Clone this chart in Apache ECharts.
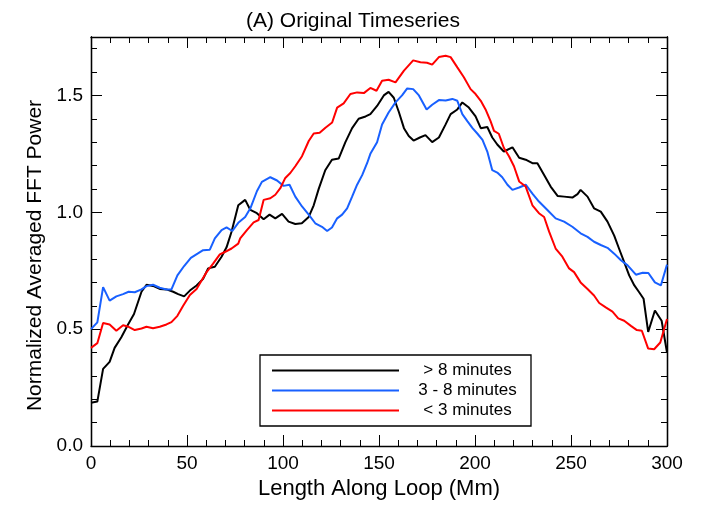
<!DOCTYPE html>
<html>
<head>
<meta charset="utf-8">
<script src="https://cdn.jsdelivr.net/npm/echarts@6/dist/echarts.min.js"></script>
<style>html,body{margin:0;padding:0;background:#fff;}#chart{width:706px;height:505px;}</style>
</head>
<body>
<div id="chart"></div>
<script>
// ---- Data ----
const seriesNames = ['> 8 minutes', '3 - 8 minutes', '< 3 minutes'];
const xTicks = [0, 50, 100, 150, 200, 250, 300];
const yTicks = [0.0, 0.5, 1.0, 1.5];

const longPeriod = [ // > 8 minutes : [Mm, power]
 [0,0.185],[3.3,0.19],[6.3,0.33],[9.7,0.36],[12.3,0.42],[15.8,0.465],[19.3,0.52],[22.4,0.565],
 [26.3,0.66],[28.9,0.69],[32.3,0.685],[35.8,0.672],[39.3,0.67],[42.8,0.66],[45.4,0.65],[48.5,0.64],
 [51.5,0.665],[55,0.687],[58.4,0.715],[61,0.76],[64.5,0.767],[68,0.81],[70.6,0.85],[73.2,0.917],
 [76.7,1.03],[80.3,1.053],[83,1.01],[86.4,0.996],[89.9,0.97],[93,0.99],[96,0.974],[99.5,0.993],
 [102.9,0.96],[106.4,0.95],[109.8,0.953],[113.4,0.98],[116,1.03],[118.6,1.10],[122,1.18],[125.5,1.225],
 [129,1.23],[132.5,1.30],[136,1.36],[139.4,1.40],[143,1.41],[145.5,1.42],[149,1.455],[152.5,1.50],
 [155,1.515],[157.7,1.49],[160.3,1.43],[163,1.36],[165.5,1.326],[168,1.307],[171.3,1.32],[174.2,1.33],
 [177.7,1.30],[181.2,1.32],[184.7,1.376],[187.3,1.42],[190.8,1.44],[193.4,1.47],[196.8,1.448],[200.3,1.41],
 [203,1.36],[206.4,1.365],[209,1.32],[211.6,1.29],[215,1.26],[219.5,1.278],[223,1.233],[226.4,1.225],
 [229.9,1.21],[232.5,1.21],[236,1.16],[239.4,1.11],[243,1.07],[246.4,1.067],[250.7,1.063],[253.4,1.078],
 [255,1.096],[258.6,1.067],[262,1.017],[265.5,1.003],[269,0.96],[272.5,0.90],[275,0.845],[277.7,0.787],
 [280.3,0.73],[283,0.687],[285.5,0.658],[287.8,0.63],[290.2,0.488],[293.7,0.58],[297.2,0.536],[300,0.40]
];

const midPeriod = [ // 3 - 8 minutes
 [0,0.50],[3.3,0.529],[6.3,0.68],[9.7,0.622],[13.2,0.64],[16.7,0.65],[19.6,0.66],[22.8,0.658],
 [26.3,0.67],[28.9,0.684],[32.3,0.69],[35.8,0.677],[39.3,0.67],[41.9,0.67],[45,0.73],[48.5,0.77],
 [52,0.805],[55.5,0.823],[58.4,0.838],[61.9,0.84],[64.5,0.888],[68,0.924],[70.6,0.935],[73.6,0.92],
 [76.7,0.955],[80.3,0.98],[83,1.017],[86.4,1.09],[89,1.13],[93.4,1.15],[96.9,1.136],[100.3,1.113],
 [103.4,1.118],[106.4,1.067],[109.9,1.025],[113.4,0.99],[116.8,0.953],[120.3,0.938],[123,0.92],[125.5,0.935],
 [128.2,0.974],[130.8,0.99],[133.4,1.017],[136,1.067],[138.6,1.118],[141.3,1.16],[143.8,1.21],[145.5,1.25],
 [149,1.30],[151.6,1.376],[155,1.427],[158.6,1.47],[162,1.50],[164.7,1.53],[167.8,1.527],[170.8,1.50],
 [174.8,1.44],[177.7,1.46],[181.2,1.48],[184.7,1.478],[188.2,1.485],[190.8,1.477],[193.4,1.42],[196,1.39],
 [198.7,1.36],[201.3,1.336],[203.9,1.31],[206.4,1.26],[209,1.18],[211.6,1.17],[214.2,1.15],[216.9,1.118],
 [219.5,1.096],[223,1.106],[226.4,1.118],[229.9,1.08],[233.3,1.046],[237.7,1.01],[242,0.974],[246.4,0.96],
 [250.7,0.938],[255,0.91],[258.6,0.895],[262,0.874],[265.5,0.86],[269,0.848],[272.5,0.823],[276,0.795],
 [279.5,0.773],[283.8,0.733],[287.3,0.741],[290.3,0.74],[293.7,0.70],[296.8,0.687],[300,0.776]
];

const shortPeriod = [ // < 3 minutes
 [0,0.42],[3.3,0.44],[6.3,0.526],[9.7,0.52],[13.2,0.493],[16.7,0.517],[19.6,0.51],[22.8,0.496],
 [26.3,0.503],[28.9,0.51],[32.3,0.504],[35.8,0.51],[39.3,0.52],[41.9,0.53],[45,0.557],[48,0.60],
 [51.5,0.646],[55,0.672],[57.6,0.708],[60.2,0.744],[63.6,0.78],[67.1,0.82],[69.7,0.83],[73.2,0.845],
 [76.7,0.866],[77.7,0.888],[81.2,0.924],[84.7,0.957],[87.3,0.967],[89.9,1.053],[93.4,1.06],[96,1.075],
 [98.6,1.103],[101.2,1.147],[103.8,1.168],[106.4,1.197],[109.9,1.24],[113.4,1.305],[116,1.337],[119.1,1.34],
 [122.1,1.362],[125.6,1.384],[128.2,1.448],[131.6,1.466],[135.1,1.506],[138.6,1.513],[142.1,1.51],[145.5,1.532],
 [148.7,1.52],[151.6,1.563],[155,1.567],[158.6,1.556],[163,1.606],[167.8,1.65],[171.6,1.642],[175,1.64],
 [177.7,1.632],[181.2,1.664],[184.7,1.67],[187.3,1.664],[190.8,1.62],[194.2,1.578],[197.7,1.527],[200.3,1.506],
 [203,1.477],[205.5,1.44],[208.1,1.39],[209.9,1.348],[212.4,1.336],[215,1.276],[217.7,1.24],[220.3,1.197],
 [223,1.132],[226.4,1.11],[229.9,1.03],[233.3,0.996],[236,0.98],[238.6,0.917],[242,0.845],[245.5,0.81],
 [249,0.76],[251.6,0.744],[255,0.70],[258.6,0.672],[262,0.644],[264.7,0.612],[268.1,0.593],[271.6,0.575],
 [274.6,0.546],[277.7,0.536],[281.2,0.514],[284.3,0.496],[286.9,0.493],[290.2,0.417],[293.3,0.414],[296.5,0.443],
 [300,0.543]
];

// ---- Chart ----
const FONT = '"Liberation Sans", Arial, Helvetica, sans-serif';
const chart = echarts.init(document.getElementById('chart'), null, {renderer: 'canvas'});
const axisLine = {show: true, onZero: false, lineStyle: {color: '#000', width: 1.3}};
const xMin = xTicks[0], xMax = xTicks[xTicks.length - 1], xStep = xTicks[1] - xTicks[0];
const yStep = yTicks[1] - yTicks[0];

function xAxisDef(pos, labels) {
  return {
    type: 'value', position: pos, min: xMin, max: xMax, interval: xStep,
    axisLine: axisLine,
    axisTick: {show: true, inside: true, length: 11, lineStyle: {color: '#000', width: 1}},
    minorTick: {show: true, splitNumber: 5, length: 6, lineStyle: {color: '#000', width: 1}},
    splitLine: {show: false},
    axisLabel: {show: labels, color: '#000', fontSize: 19, fontFamily: FONT, margin: 8},
    name: labels ? 'Length Along Loop (Mm)' : '',
    nameLocation: 'middle', nameGap: 32,
    nameTextStyle: {color: '#000', fontSize: 22, fontFamily: FONT}
  };
}
function yAxisDef(pos, major, labels) {
  return {
    type: 'value', position: pos, min: 0, max: 1.75, interval: major ? yStep : 0.1,
    axisLine: axisLine,
    axisTick: {show: true, inside: true, length: major ? 11 : 6, lineStyle: {color: '#000', width: 1}},
    splitLine: {show: false},
    axisLabel: {show: labels, color: '#000', fontSize: 19, fontFamily: FONT, margin: 8,
      showMaxLabel: false, formatter: v => v.toFixed(1)},
    name: labels ? 'Normalized Averaged FFT Power' : '',
    nameLocation: 'middle', nameGap: 43,
    nameTextStyle: {color: '#000', fontSize: 21, fontFamily: FONT, padding: [0, 28, 0, 0]}
  };
}

const colors = ['#000000', '#1860ff', '#ff0000'];
const datasets = [longPeriod, midPeriod, shortPeriod];

chart.setOption({
  animation: false,
  backgroundColor: '#fff',
  title: {
    text: '(A) Original Timeseries', left: 'center', top: 6,
    textStyle: {color: '#000', fontSize: 21, fontWeight: 'normal', fontFamily: FONT}
  },
  grid: {left: 91, top: 37, width: 576, height: 409, containLabel: false},
  xAxis: [xAxisDef('bottom', true), xAxisDef('top', false)],
  yAxis: [yAxisDef('left', true, true), yAxisDef('left', false, false),
          yAxisDef('right', true, false), yAxisDef('right', false, false)],
  legend: {
    show: true, orient: 'vertical', left: 260, top: 355,
    padding: [7, 0, 7, 12], itemGap: 3,
    borderColor: '#000', borderWidth: 1.3, backgroundColor: '#fff',
    itemWidth: 127, itemHeight: 2, icon: 'rect',
    data: seriesNames,
    formatter: n => '{t|' + n + '}',
    textStyle: {color: '#000', fontSize: 17, fontFamily: FONT,
      rich: {t: {width: 127, align: 'center', fontSize: 17, lineHeight: 16, fontFamily: FONT, color: '#000'}}}
  },
  series: seriesNames.map((n, i) => ({
    name: n, type: 'line', xAxisIndex: 0, yAxisIndex: 0,
    data: datasets[i], showSymbol: false, symbol: 'none',
    lineStyle: {color: colors[i], width: 2}, itemStyle: {color: colors[i]},
    emphasis: {disabled: true}
  }))
});
</script>
</body>
</html>
